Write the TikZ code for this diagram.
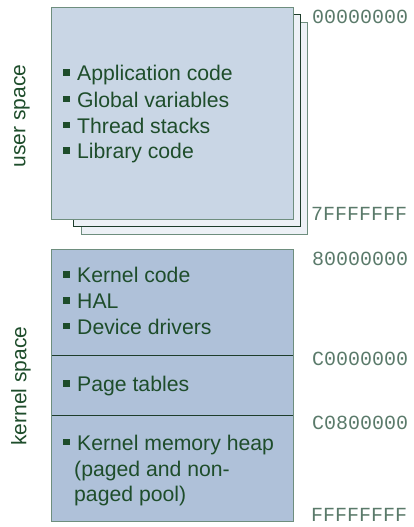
\documentclass[tikz,border=0pt]{standalone}
\usepackage{fontspec}
\setmainfont{Liberation Sans}
\newfontfamily\addrfont{Liberation Mono}
\definecolor{txtgreen}{HTML}{1E4D2B}
\definecolor{addrgreen}{HTML}{5A7A6A}
\definecolor{edgegreen}{HTML}{6E8E7E}
\definecolor{darkedge}{HTML}{1E3D2B}
\definecolor{userfill}{HTML}{C9D6E5}
\definecolor{backfill}{HTML}{EDF1F6}
\definecolor{kernfill}{HTML}{AFC1D9}
\newcommand{\sqbul}{\rule[5pt]{6.5pt}{6.5pt}}
\tikzset{
  item/.style={anchor=base west, inner sep=0pt, text=txtgreen,
    font=\fontsize{21.2pt}{26pt}\selectfont},
  bul/.style={anchor=base west, inner sep=0pt, text=txtgreen},
  addr/.style={anchor=base west, inner sep=0pt, text=addrgreen,
    font=\addrfont\fontsize{20pt}{22pt}\selectfont},
  side/.style={inner sep=0pt, text=txtgreen, rotate=90,
    font=\fontsize{21pt}{24pt}\selectfont},
  frame/.style={draw=edgegreen, line width=1pt},
  divider/.style={draw=darkedge, line width=1pt}
}
\begin{document}
\begin{tikzpicture}[x=1pt, y=-1pt]
  \useasboundingbox (0,0) rectangle (414,527);

  % stacked user-space pages
  \filldraw[fill=backfill, frame] (81,22.5) rectangle (307.5,234);
  \filldraw[fill=backfill, draw=darkedge, line width=1pt] (73,15) rectangle (300.5,226.5);
  \filldraw[fill=userfill, frame] (51,7.5) rectangle (293,219);

  % user-space contents
  \node[bul] (b1) at (63,81) {\sqbul};
  \node[item] (u1) at (77,81) {Application code};
  \node[bul] (b2) at (63,107) {\sqbul};
  \node[item] (u2) at (77,107) {Global variables};
  \node[bul] (b3) at (63,133) {\sqbul};
  \node[item] (u3) at (77,133) {Thread stacks};
  \node[bul] (b4) at (63,158.5) {\sqbul};
  \node[item] (u4) at (77,158.5) {Library code};

  % kernel-space box with its three regions
  \fill[kernfill] (51,249.5) rectangle (293,521.5);
  \draw[divider] (51,355.7) -- (293,355.7);
  \draw[divider] (51,415.7) -- (293,415.7);
  \draw[frame] (51,249.5) rectangle (293,521.5);

  \node[bul] (b5) at (63,282.7) {\sqbul};
  \node[item] (k1) at (77,282.7) {Kernel code};
  \node[bul] (b6) at (63,308.5) {\sqbul};
  \node[item] (k2) at (77,308.5) {HAL};
  \node[bul] (b7) at (63,334.3) {\sqbul};
  \node[item] (k3) at (77,334.3) {Device drivers};
  \node[bul] (b8) at (63,391.7) {\sqbul};
  \node[item] (k4) at (77,391.7) {Page tables};
  \node[bul] (b9) at (63,450) {\sqbul};
  \node[item] (k5) at (77,450) {Kernel memory heap};
  \node[item] (k6) at (74,476) {(paged and non-};
  \node[item] (k7) at (74,501.7) {paged pool)};

  % side labels
  \node[side] (us) at (22,116) {user space};
  \node[side] (ks) at (21,386) {kernel space};

  % addresses
  \node[addr] (a0) at (312,24) {00000000};
  \node[addr] (a1) at (311,220) {7FFFFFFF};
  \node[addr] (a2) at (312,265) {80000000};
  \node[addr] (a3) at (312,365) {C0000000};
  \node[addr] (a4) at (312,429) {C0800000};
  \node[addr] (a5) at (311,521) {FFFFFFFF};
\end{tikzpicture}
\end{document}
